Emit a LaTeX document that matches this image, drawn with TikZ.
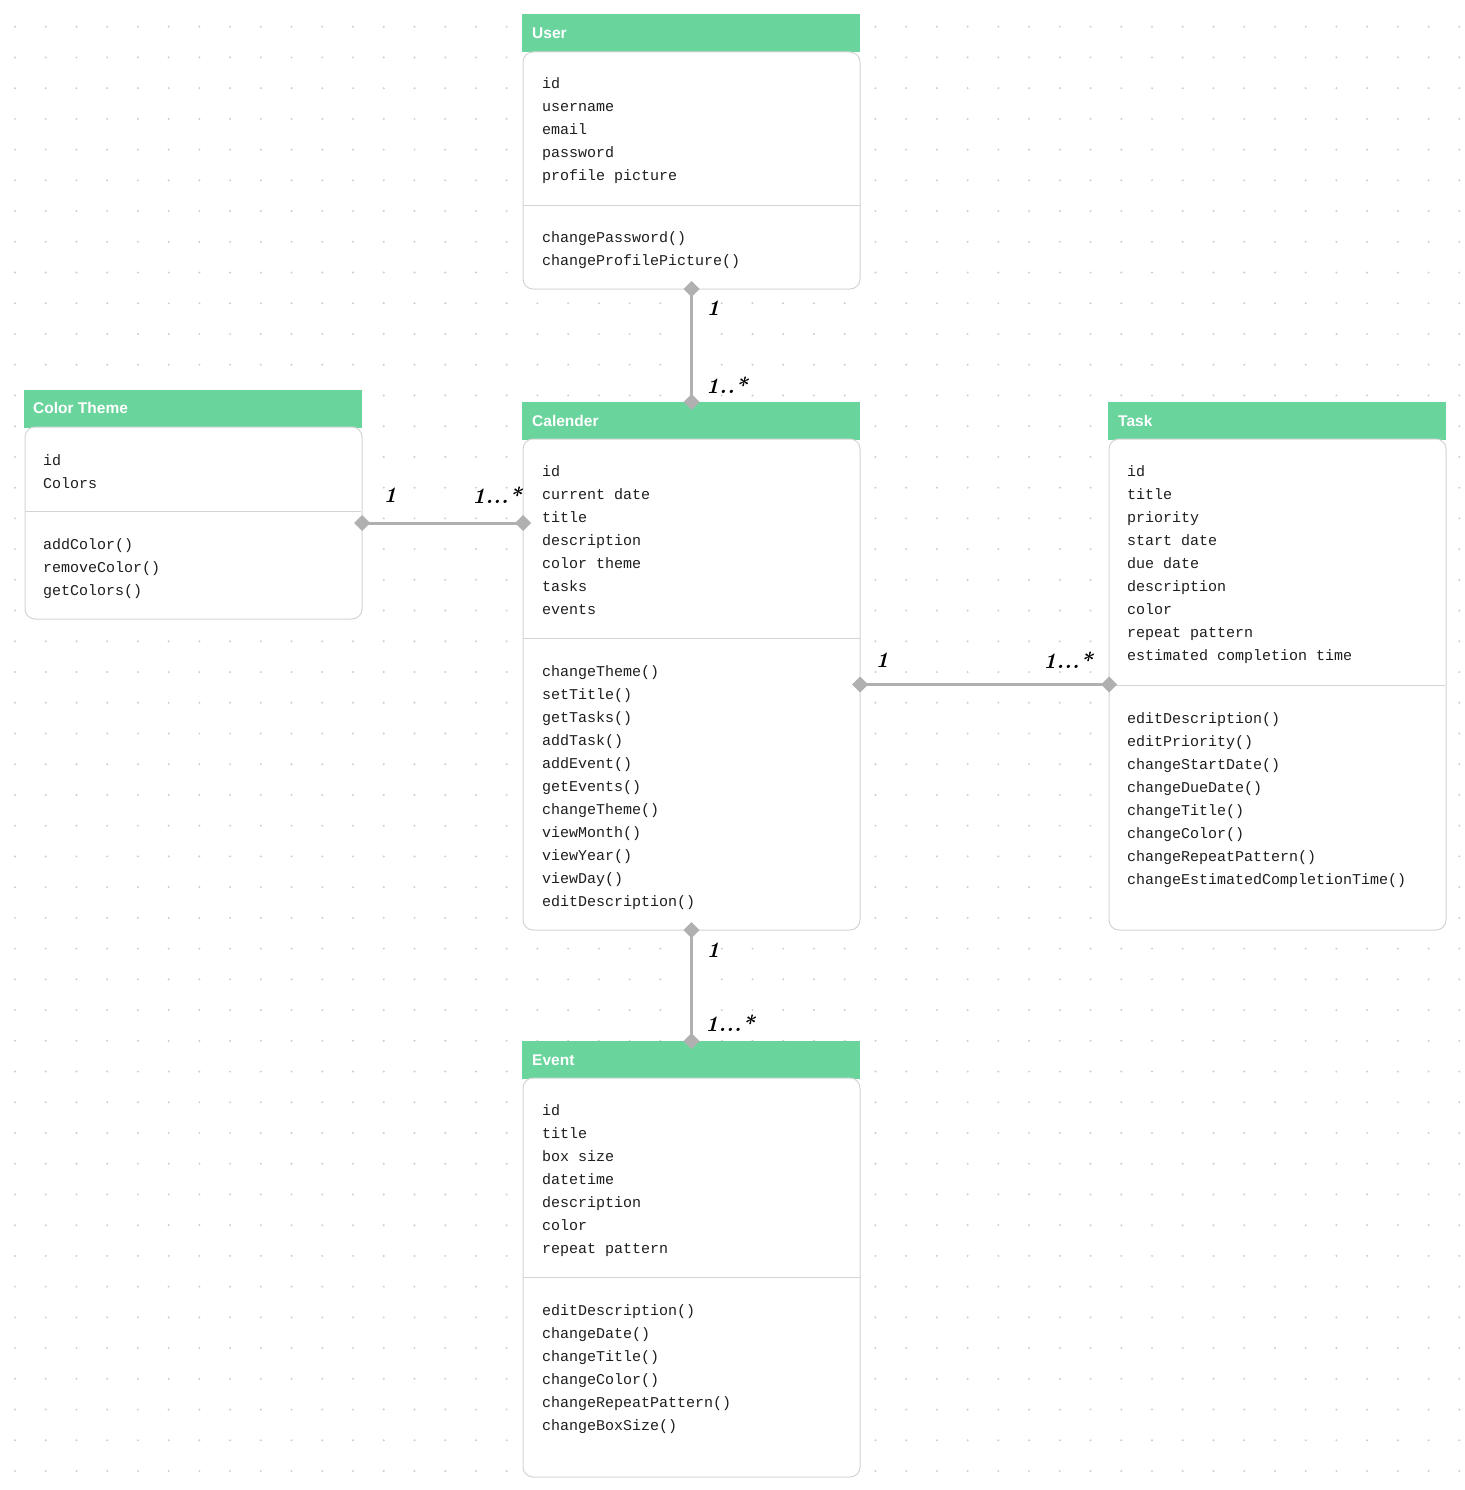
\documentclass[tikz,border=0pt]{standalone}
\usepackage{fontspec}
\usetikzlibrary{arrows.meta}
\newfontfamily\hdrfont{Liberation Sans}
\newfontfamily\monofont{Liberation Mono}
\definecolor{hdrgreen}{RGB}{106,212,157}
\definecolor{boxline}{RGB}{212,212,212}
\definecolor{connc}{RGB}{176,176,176}
\definecolor{dotc}{RGB}{205,205,205}
\definecolor{txt}{RGB}{30,30,30}
\tikzset{
  hdr/.style={draw=none, fill=hdrgreen, rectangle, inner sep=0pt, outer sep=0pt, anchor=north west, minimum width=338pt, minimum height=38pt},
  body/.style={draw=boxline, line width=1pt, fill=white, rectangle, rounded corners=10pt, inner sep=0pt, outer sep=0pt, anchor=north west, minimum width=337pt},
  htext/.style={anchor=west, inner sep=0pt, text=white, font=\hdrfont\bfseries\fontsize{15.5}{18}\selectfont},
  attr/.style={anchor=west, inner sep=0pt, yshift=-2pt, text=txt, text height=11pt, text depth=3pt, font=\monofont\fontsize{15}{18}\selectfont},
  divline/.style={draw=boxline, line width=1pt},
  conn/.style={draw=connc, line width=3pt, {Diamond[length=16pt,width=16pt,fill=connc]}-{Diamond[length=16pt,width=16pt,fill=connc]}, shorten <=-8pt, shorten >=-8pt},
  mult/.style={inner sep=0pt, text=black, font=\bfseries\itshape\fontsize{22}{24}\selectfont}
}
\begin{document}
\begin{tikzpicture}[x=1pt,y=-1pt]
\useasboundingbox (0,0) rectangle (1464,1490);
\fill[white] (0,0) rectangle (1464,1490);
% dot grid
\foreach \i in {0,...,47}{
  \foreach \j in {0,...,47}{
    \fill[dotc] ({15+30.73*\i},{26.7+30.73*\j}) circle (1.1pt);
  }
}
% ---------- User ----------
\node[hdr] (userH) at (522,14) {};
\node[htext] (userT) at (532,33) {User};
\node[body, minimum height=237pt] (userB) at (523,52) {};
\draw[divline] (523,205) -- (860,205);
\foreach \t [count=\i] in {id,username,email,password,profile picture}
  \node[attr] (userA\i) at (542,{83+23*(\i-1)}) {\t};
\foreach \t [count=\i] in {changePassword(),changeProfilePicture()}
  \node[attr] (userM\i) at (542,{236+23*(\i-1)}) {\t};
% ---------- Color Theme ----------
\node[hdr] (ctH) at (24,390) {};
\node[htext] (ctT) at (33,408) {Color Theme};
\node[body, minimum height=192pt] (ctB) at (25,427) {};
\draw[divline] (25,511) -- (361,511);
\foreach \t [count=\i] in {id,Colors}
  \node[attr] (ctA\i) at (43,{459+23*(\i-1)}) {\t};
\foreach \t [count=\i] in {addColor(),removeColor(),getColors()}
  \node[attr] (ctM\i) at (43,{543+23*(\i-1)}) {\t};
% ---------- Calender ----------
\node[hdr] (calH) at (522,402) {};
\node[htext] (calT) at (532,421) {Calender};
\node[body, minimum height=491pt] (calB) at (523,439) {};
\draw[divline] (523,638) -- (860,638);
\foreach \t [count=\i] in {id,current date,title,description,color theme,tasks,events}
  \node[attr] (calA\i) at (542,{470+23*(\i-1)}) {\t};
\foreach \t [count=\i] in {changeTheme(),setTitle(),getTasks(),addTask(),addEvent(),getEvents(),changeTheme(),viewMonth(),viewYear(),viewDay(),editDescription()}
  \node[attr] (calM\i) at (542,{670+23*(\i-1)}) {\t};
% ---------- Task ----------
\node[hdr] (taskH) at (1108,402) {};
\node[htext] (taskT) at (1118,421) {Task};
\node[body, minimum height=491pt] (taskB) at (1109,439) {};
\draw[divline] (1109,685) -- (1445,685);
\foreach \t [count=\i] in {id,title,priority,start date,due date,description,color,repeat pattern,estimated completion time}
  \node[attr] (taskA\i) at (1127,{470+23*(\i-1)}) {\t};
\foreach \t [count=\i] in {editDescription(),editPriority(),changeStartDate(),changeDueDate(),changeTitle(),changeColor(),changeRepeatPattern(),changeEstimatedCompletionTime()}
  \node[attr] (taskM\i) at (1127,{717+23*(\i-1)}) {\t};
% ---------- Event ----------
\node[hdr] (evH) at (522,1041) {};
\node[htext] (evT) at (532,1060) {Event};
\node[body, minimum height=399pt] (evB) at (523,1078) {};
\draw[divline] (523,1277) -- (860,1277);
\foreach \t [count=\i] in {id,title,box size,datetime,description,color,repeat pattern}
  \node[attr] (evA\i) at (542,{1109+23*(\i-1)}) {\t};
\foreach \t [count=\i] in {editDescription(),changeDate(),changeTitle(),changeColor(),changeRepeatPattern(),changeBoxSize()}
  \node[attr] (evM\i) at (542,{1309+23*(\i-1)}) {\t};
% ---------- connectors ----------
\draw[conn] (userB.south) -- (userB.south |- calH.north);
\draw[conn] (ctB.east) -- (calB.west |- ctB.east);
\draw[conn] (calB.east) -- (taskB.west |- calB.east);
\draw[conn] (calB.south) -- (calB.south |- evH.north);
% ---------- multiplicities ----------
\node[mult] (m1) at (713,308) {1};
\node[mult] (m2) at (727,385) {1..*};
\node[mult] (m3) at (390,495) {1};
\node[mult] (m4) at (497,495) {1...*};
\node[mult] (m5) at (882,660) {1};
\node[mult] (m6) at (1068,660) {1...*};
\node[mult] (m7) at (713,950) {1};
\node[mult] (m8) at (730,1023) {1...*};
\end{tikzpicture}
\end{document}
